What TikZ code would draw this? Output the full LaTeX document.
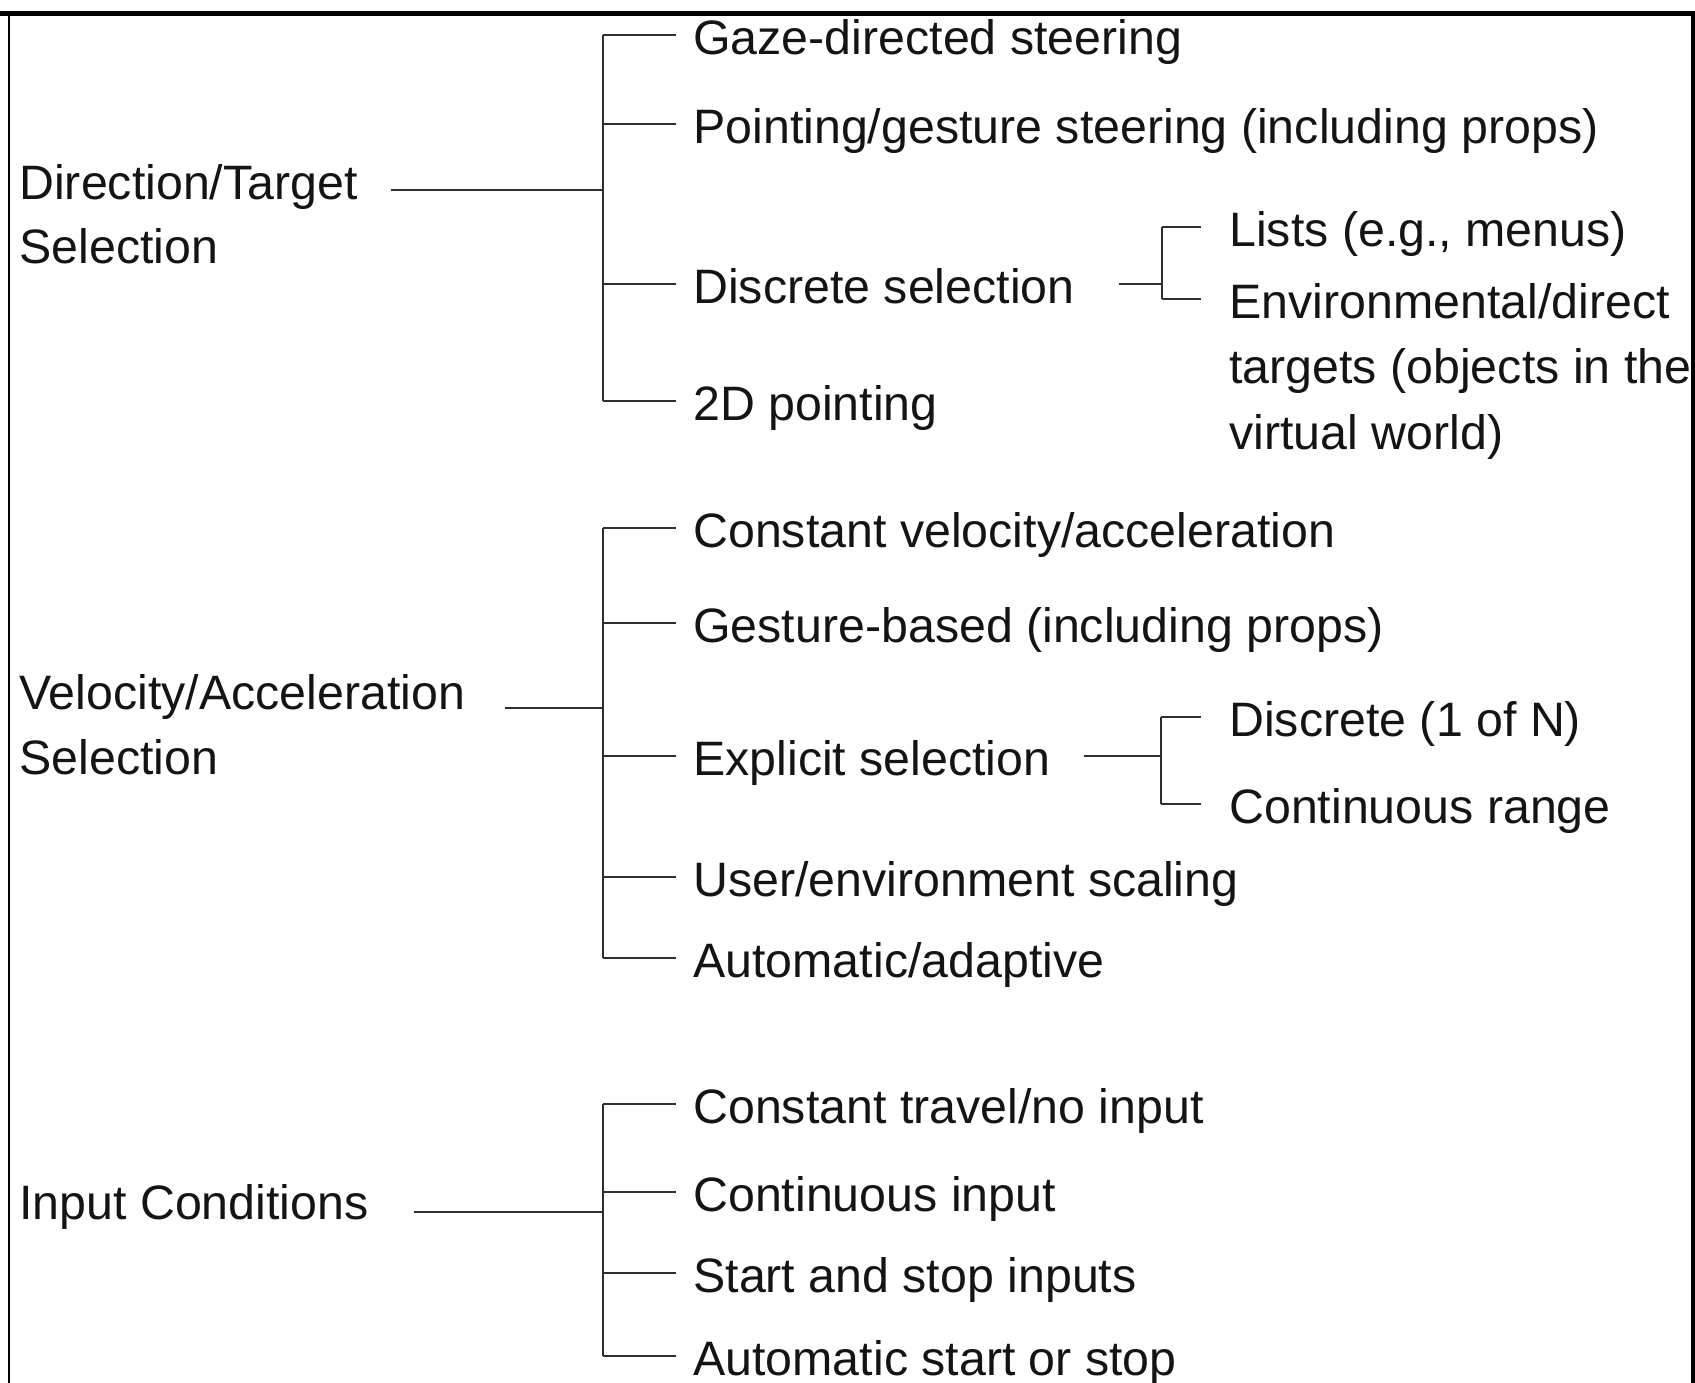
\documentclass[tikz,border=0pt]{standalone}
\usepackage{fontspec}
\setmainfont{Liberation Sans}
\usetikzlibrary{positioning}

\begin{document}
\begin{tikzpicture}[
  x=0.02cm, y=-0.02cm,
  item/.style={anchor=west, inner sep=0pt, text height=0.97cm, text depth=0.2cm, font=\fontsize{27.5}{37}\selectfont, text=black!92},
  tree/.style={draw=black!82, line width=1.4pt},
  frame/.style={draw=black}
]
\useasboundingbox (0,0) rectangle (1695,1383);

% frame, open at the bottom
\draw[frame, line width=0.1cm] (0,13) -- (1695,13);
\draw[frame, line width=0.04cm] (9,13) -- (9,1383);
\draw[frame, line width=0.08cm] (1693,13) -- (1693,1383);

% direction / target selection
\node[item] (dir) at (19,180) {Direction/Target};
\node[item] (dirb) at ([yshift=-1.28cm]dir.west) {Selection};
\node[item] (gaze) at (693,35) {Gaze-directed steering};
\node[item] (point) at (693,124) {Pointing/gesture steering (including props)};
\node[item] (discr) at (693,284) {Discrete selection};
\node[item] (pt2d) at (693,401) {2D pointing};
\node[item] (lists) at (1229,227) {Lists (e.g., menus)};
\node[item] (env) at (1229,299) {Environmental/direct};
\node[item] (envb) at ([yshift=-1.31cm]env.west) {targets (objects in the};
\node[item] (envc) at ([yshift=-1.31cm]envb.west) {virtual world)};

\coordinate (b1) at (603,190);
\coordinate (b1s) at (1162,284);
\draw[tree] ([xshift=0.66cm]dir.east |- b1) -- (b1);
\draw[tree] (b1 |- gaze.west) -- (b1 |- pt2d.west);
\foreach \n in {gaze,point,discr,pt2d}
  \draw[tree] (b1 |- \n.west) -- ([xshift=-0.34cm]\n.west);
\draw[tree] ([xshift=0.88cm]discr.east) -- (b1s);
\draw[tree] (b1s |- lists.west) -- (b1s |- env.west);
\foreach \n in {lists,env}
  \draw[tree] (b1s |- \n.west) -- ([xshift=-0.56cm]\n.west);

% velocity / acceleration selection
\node[item] (vel) at (19,690) {Velocity/Acceleration};
\node[item] (velb) at ([yshift=-1.3cm]vel.west) {Selection};
\node[item] (constv) at (693,528) {Constant velocity/acceleration};
\node[item] (gest) at (693,623) {Gesture-based (including props)};
\node[item] (expl) at (693,756) {Explicit selection};
\node[item] (scal) at (693,877) {User/environment scaling};
\node[item] (adapt) at (693,958) {Automatic/adaptive};
\node[item] (disn) at (1229,717) {Discrete (1 of N)};
\node[item] (range) at (1229,804) {Continuous range};

\coordinate (b2) at (603,708);
\coordinate (b2s) at (1161,756);
\draw[tree] ([xshift=0.78cm]vel.east |- b2) -- (b2);
\draw[tree] (b2 |- constv.west) -- (b2 |- adapt.west);
\foreach \n in {constv,gest,expl,scal,adapt}
  \draw[tree] (b2 |- \n.west) -- ([xshift=-0.34cm]\n.west);
\draw[tree] ([xshift=0.66cm]expl.east) -- (b2s);
\draw[tree] (b2s |- disn.west) -- (b2s |- range.west);
\foreach \n in {disn,range}
  \draw[tree] (b2s |- \n.west) -- ([xshift=-0.56cm]\n.west);

% input conditions
\node[item] (inp) at (19,1200) {Input Conditions};
\node[item] (notrav) at (693,1104) {Constant travel/no input};
\node[item] (contin) at (693,1192) {Continuous input};
\node[item] (stst) at (693,1273) {Start and stop inputs};
\node[item] (autost) at (693,1356) {Automatic start or stop};

\coordinate (b3) at (603,1212);
\draw[tree] ([xshift=0.9cm]inp.east |- b3) -- (b3);
\draw[tree] (b3 |- notrav.west) -- (b3 |- autost.west);
\foreach \n in {notrav,contin,stst,autost}
  \draw[tree] (b3 |- \n.west) -- ([xshift=-0.34cm]\n.west);
\end{tikzpicture}
\end{document}
